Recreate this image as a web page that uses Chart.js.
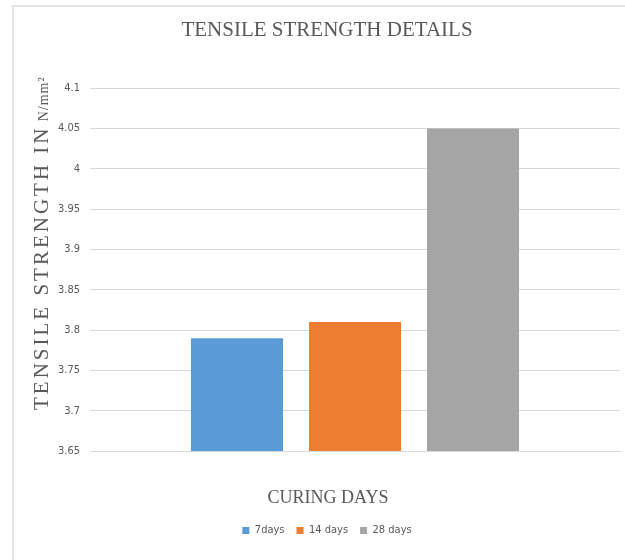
<!DOCTYPE html>
<html>
<head>
<meta charset="utf-8">
<script src="https://cdn.jsdelivr.net/npm/chart.js@4/dist/chart.umd.min.js"></script>
<style>
  html, body { margin: 0; padding: 0; background: #ffffff; }
  #frame {
    position: absolute; left: 12px; top: 5px; width: 625px; height: 560px;
    border-left: 2px solid #e3e3e3; border-top: 2px solid #e3e3e3;
  }
  #wrap { position: absolute; left: 0; top: 0; width: 625px; height: 560px; }
</style>
</head>
<body>
<div id="frame"></div>
<div id="wrap"><canvas id="chart" width="625" height="560"></canvas></div>
<script>
// Curing periods and measured tensile strength (N/mm²)
const categories = [''];
const seriesNames = ['7days', '14 days', '28 days'];
const strength7 = [3.79];
const strength14 = [3.81];
const strength28 = [4.05];
const seriesColors = ['#5b9bd5', '#ed7d31', '#a5a5a5'];
const yTickValues = [3.65, 3.7, 3.75, 3.8, 3.85, 3.9, 3.95, 4, 4.05, 4.1];
const yTickLabels = ['3.65', '3.7', '3.75', '3.8', '3.85', '3.9', '3.95', '4', '4.05', '4.1'];

const chartTitle = 'TENSILE STRENGTH DETAILS';
const xTitle = 'CURING DAYS';
const yTitleMain = 'TENSILE STRENGTH IN ';
const yTitleUnit = 'N/mm²';

const serif = "'Liberation Serif', 'DejaVu Serif', serif";
const narrow = "'Liberation Sans Narrow', 'DejaVu Sans Condensed', 'Liberation Sans', sans-serif";
const textGrey = '#595959';

// Axis titles: rotated y title with a smaller unit part, and the x title
const axisTitlePlugin = {
  id: 'axisTitles',
  afterDraw(chart) {
    const ctx = chart.ctx;
    ctx.save();
    ctx.fillStyle = textGrey;

    // x-axis title
    ctx.font = '18px ' + serif;
    ctx.textAlign = 'center';
    ctx.textBaseline = 'middle';
    ctx.fillText(xTitle, 328, 498);

    // y-axis title
    ctx.translate(48, 410);
    ctx.rotate(-Math.PI / 2);
    ctx.textBaseline = 'alphabetic';
    ctx.textAlign = 'left';
    ctx.font = '21px ' + serif;
    ctx.letterSpacing = '3px';
    ctx.fillText(yTitleMain, 0, 0);
    const w = ctx.measureText(yTitleMain).width;
    ctx.font = '14px ' + serif;
    ctx.letterSpacing = '1px';
    ctx.fillText(yTitleUnit, w - 4, 0);
    ctx.restore();
  }
};

const datasets = [strength7, strength14, strength28].map((vals, i) => ({
  label: seriesNames[i],
  data: vals,
  backgroundColor: seriesColors[i],
  borderWidth: 0,
  categoryPercentage: 0.668,
  barPercentage: 0.78
}));

new Chart(document.getElementById('chart'), {
  type: 'bar',
  data: { labels: categories, datasets },
  plugins: [axisTitlePlugin],
  options: {
    responsive: false,
    animation: false,
    layout: { padding: { left: 34, right: 5, top: 0, bottom: 14 } },
    plugins: {
      tooltip: { enabled: false },
      title: {
        display: true,
        text: chartTitle,
        color: textGrey,
        font: { family: serif, size: 21, weight: 'normal' },
        padding: { top: 18, bottom: 45 }
      },
      legend: {
        display: true,
        position: 'bottom',
        labels: {
          color: textGrey,
          font: { family: narrow, size: 11 },
          boxWidth: 7,
          boxHeight: 7,
          padding: 12
        }
      }
    },
    scales: {
      x: {
        afterFit(scale) { scale.height = 62; },
        grid: { display: false },
        border: { display: true, color: '#d9d9d9', width: 1 },
        ticks: { display: false }
      },
      y: {
        min: 3.65,
        max: 4.1,
        afterFit(scale) { scale.width = 56; },
        afterBuildTicks(scale) { scale.ticks = yTickValues.map(v => ({ value: v })); },
        grid: { color: '#d9d9d9', lineWidth: 1, drawTicks: false },
        border: { display: false },
        ticks: {
          color: textGrey,
          padding: 10,
          font: { family: narrow, size: 11 },
          callback: (v, i) => yTickLabels[i]
        }
      }
    }
  }
});
</script>
</body>
</html>
